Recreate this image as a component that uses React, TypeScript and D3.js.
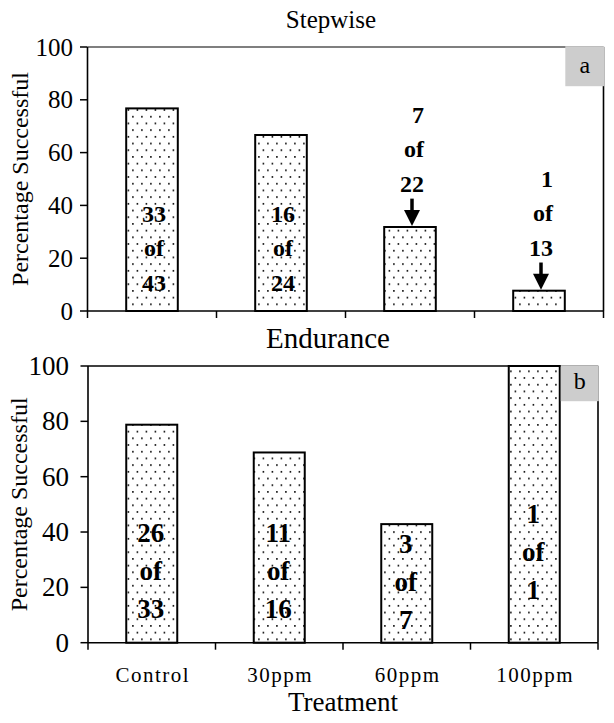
import React from "react";
import * as d3 from "d3";

const categories = ["Control", "30ppm", "60ppm", "100ppm"];
const stepwiseSuccess = [33, 16, 7, 1];
const stepwiseTotal = [43, 24, 22, 13];
const enduranceSuccess = [26, 11, 3, 1];
const enduranceTotal = [33, 16, 7, 1];
const yTicks = [0, 20, 40, 60, 80, 100];

const FONT = "Liberation Serif, Times New Roman, serif";
const BASE = 20;

type TProps = {
  x: number;
  y: number;
  size: number;
  anchor?: "start" | "middle" | "end";
  bold?: boolean;
  rotate?: number;
  central?: boolean;
  spacing?: number;
  children: React.ReactNode;
};

function T({ x, y, size, anchor = "start", bold, rotate = 0, central, spacing, children }: TProps) {
  const s = size / BASE;
  return (
    <text
      transform={`translate(${x},${y}) rotate(${rotate}) scale(${s})`}
      textAnchor={anchor}
      dominantBaseline={central ? "central" : undefined}
      style={{
        fontFamily: FONT,
        fontSize: BASE,
        fontWeight: bold ? "bold" : "normal",
        letterSpacing: spacing ? `${spacing / s}px` : undefined,
      }}
    >
      {children}
    </text>
  );
}

type PanelCfg = {
  title: string;
  titleX: number;
  titleY: number;
  titleSize: number;
  letter: string;
  x0: number;
  x1: number;
  yTop: number;
  yBot: number;
  tickSize: number;
  tickLabelX: number;
  success: number[];
  total: number[];
  labelFirst: number[];
  arrows: boolean[];
  labelSize: number;
  lineGap: number;
  boxW: number;
  boxH: number;
  letterY: number;
  ylabelX: number;
  topStroke: string;
};

const panels: PanelCfg[] = [
  {
    title: "Stepwise",
    titleX: 331,
    titleY: 28,
    titleSize: 25,
    letter: "a",
    x0: 87.5,
    x1: 603.5,
    yTop: 47,
    yBot: 311,
    tickSize: 25,
    tickLabelX: 73,
    success: stepwiseSuccess,
    total: stepwiseTotal,
    labelFirst: [33.7, 33.7, 71.2, 47],
    arrows: [false, false, true, true],
    labelSize: 24,
    lineGap: 34.3,
    boxW: 39,
    boxH: 40,
    letterY: 73,
    ylabelX: 20,
    topStroke: "#555",
  },
  {
    title: "Endurance",
    titleX: 328,
    titleY: 348,
    titleSize: 29,
    letter: "b",
    x0: 88,
    x1: 598,
    yTop: 366,
    yBot: 642.7,
    tickSize: 27,
    tickLabelX: 69,
    success: enduranceSuccess,
    total: enduranceTotal,
    labelFirst: [36.5, 36.5, 32.4, 43.3],
    arrows: [false, false, false, false],
    labelSize: 27,
    lineGap: 38,
    boxW: 38,
    boxH: 36,
    letterY: 389,
    ylabelX: 19,
    topStroke: "#000",
  },
];

function Panel({ p, idx, showX }: { p: PanelCfg; idx: number; showX: boolean }) {
  const x = d3.scaleBand<string>().domain(categories).range([p.x0, p.x1]).padding(0);
  const y = d3.scaleLinear().domain([0, 100]).range([p.yBot, p.yTop]);
  const bw = x.bandwidth() * 0.4;
  const values = p.success.map((s, i) => (s / p.total[i]) * 100);
  const boundaries = categories.map((c) => x(c)!).concat([p.x1]);
  const patId = `dots${idx}`;
  return (
    <g>
      <defs>
        <pattern id={patId} patternUnits="userSpaceOnUse" width={9} height={13.4}>
          <rect width={9} height={13.4} fill="#fff" />
          <rect x={1.6} y={2} width={1.6} height={1.6} fill="#000" />
          <rect x={6.1} y={8.7} width={1.6} height={1.6} fill="#000" />
        </pattern>
      </defs>
      <T x={p.titleX} y={p.titleY} size={p.titleSize} anchor="middle">
        {p.title}
      </T>
      <T x={p.ylabelX} y={(p.yTop + p.yBot) / 2} size={24} anchor="middle" rotate={-90} central>
        Percentage Successful
      </T>
      {yTicks.map((t) => (
        <g key={t}>
          <line x1={p.x0 - 7.5} x2={p.x0} y1={y(t)} y2={y(t)} stroke="#000" strokeWidth={1.5} />
          <T x={p.tickLabelX} y={y(t)} size={p.tickSize} anchor="end" central>
            {t}
          </T>
        </g>
      ))}
      {values.map((v, i) => {
        const cx = x(categories[i])! + x.bandwidth() / 2;
        return (
          <rect
            key={i}
            x={cx - bw / 2}
            y={y(v)}
            width={bw}
            height={p.yBot - y(v)}
            fill={`url(#${patId})`}
            stroke="#000"
            strokeWidth={2}
          />
        );
      })}
      <line x1={p.x0} x2={p.x1} y1={p.yTop} y2={p.yTop} stroke={p.topStroke} strokeWidth={1.6} />
      <line x1={p.x1} x2={p.x1} y1={p.yTop} y2={p.yBot} stroke="#000" strokeWidth={1.6} />
      <line x1={p.x0} x2={p.x0} y1={p.yTop} y2={p.yBot} stroke="#000" strokeWidth={1.6} />
      <line x1={p.x0} x2={p.x1} y1={p.yBot} y2={p.yBot} stroke="#000" strokeWidth={1.6} />
      {boundaries.map((b, i) => (
        <line key={i} x1={b} x2={b} y1={p.yBot} y2={p.yBot + 7} stroke="#000" strokeWidth={1.5} />
      ))}
      <rect x={p.x1 - p.boxW + 0.8} y={p.yTop - 0.8} width={p.boxW} height={p.boxH} fill="#cdcdcd" />
      <T x={p.x1 - p.boxW / 2 + 0.8} y={p.letterY} size={24} anchor="middle">
        {p.letter}
      </T>
      {values.map((v, i) => {
        const cx = x(categories[i])! + x.bandwidth() / 2;
        const lines = [String(p.success[i]), "of", String(p.total[i])];
        const base = y(p.labelFirst[i]);
        if (p.arrows[i]) {
          const ax = cx + 2;
          const lastBase = base + p.lineGap * 2;
          const tip = y(v) - 1;
          const tail = lastBase + 7;
          const headH = 16;
          return (
            <g key={i}>
              {lines.map((l, k) => (
                <T key={k} x={ax + 12} y={base + k * p.lineGap} size={p.labelSize} anchor="end" bold>
                  {l}
                </T>
              ))}
              <line x1={ax} x2={ax} y1={tail} y2={tip - headH + 2} stroke="#000" strokeWidth={3.5} />
              <path d={`M${ax - 8},${tip - headH} L${ax + 8},${tip - headH} L${ax},${tip} Z`} fill="#000" />
            </g>
          );
        }
        return (
          <g key={i}>
            {lines.map((l, k) => (
              <T
                key={k}
                x={cx + (idx === 0 ? 2 : -1)}
                y={base + k * p.lineGap}
                size={p.labelSize}
                anchor="middle"
                bold
              >
                {l}
              </T>
            ))}
          </g>
        );
      })}
      {showX &&
        categories.map((c) => (
          <T key={c} x={x(c)! + x.bandwidth() / 2 + 1} y={682} size={21} anchor="middle" spacing={1.5}>
            {c}
          </T>
        ))}
    </g>
  );
}

export default function App() {
  return (
    <svg width={614} height={723} style={{ position: "absolute", left: 0, top: 0, background: "#fff" }}>
      <rect width={614} height={723} fill="#fff" />
      <Panel p={panels[0]} idx={0} showX={false} />
      <Panel p={panels[1]} idx={1} showX={true} />
      <T x={343} y={711} size={27} anchor="middle">
        Treatment
      </T>
    </svg>
  );
}
